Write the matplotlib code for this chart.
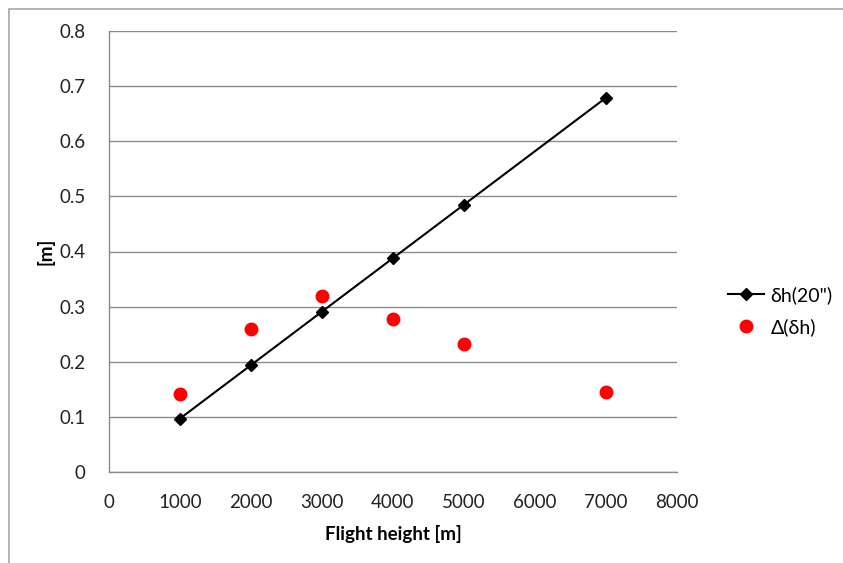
import matplotlib
matplotlib.use("Agg")
import matplotlib.pyplot as plt
from matplotlib.patches import Rectangle

heights = [1000, 2000, 3000, 4000, 5000, 7000]
dh20 = [0.097, 0.194, 0.291, 0.388, 0.485, 0.679]
delta_dh = [0.141, 0.259, 0.319, 0.278, 0.232, 0.145]
xticks = [0, 1000, 2000, 3000, 4000, 5000, 6000, 7000, 8000]
yticks = [0, 0.1, 0.2, 0.3, 0.4, 0.5, 0.6, 0.7, 0.8]

plt.rcParams['font.family'] = ['Lato', 'DejaVu Sans']

fig = plt.figure(figsize=(8.43, 5.63), dpi=100)
fig.patches.append(Rectangle((9/843, -0.1), 1.0, 1 - 9/563 + 0.1, transform=fig.transFigure,
                             fill=False, edgecolor='#a6a6a6', linewidth=1.2))
ax = fig.add_axes([109/843, 1 - 472/563, (677 - 109)/843, (472 - 31)/563])

gridc = '#8c8c8c'
ax.set_xlim(0, 8000)
ax.set_ylim(0, 0.8)
ax.set_xticks(xticks)
ax.set_yticks(yticks)
ax.set_xticklabels([str(v) for v in xticks])
ax.set_yticklabels(['0'] + [f'{v:g}' for v in yticks[1:]])
ax.grid(axis='y', color=gridc, linewidth=1.0)
ax.set_axisbelow(True)
for s in ['top', 'right']:
    ax.spines[s].set_visible(False)
for s in ['left', 'bottom']:
    ax.spines[s].set_color(gridc)
    ax.spines[s].set_linewidth(1.0)
ax.tick_params(length=0, labelsize=13.5, colors='#222222')
ax.tick_params(axis='y', pad=17)
ax.tick_params(axis='x', pad=16)

l1, = ax.plot(heights, dh20, color='black', linewidth=1.5, marker='D', markersize=6,
              markerfacecolor='black', markeredgecolor='black', label='δh(20")')
l2, = ax.plot(heights, delta_dh, linestyle='none', marker='o', markersize=9,
              color='#ff0000', label='Δ(δh)')

ax.set_xlabel('Flight height [m]', fontsize=13.5, fontweight='bold', labelpad=10)
ax.set_ylabel('[m]', fontsize=13.5, fontweight='bold', labelpad=3)

fig.legend(handles=[l1, l2], loc='center left', bbox_to_anchor=(710/843, 1 - 311/563),
           frameon=False, fontsize=14, handlelength=1.9, handletextpad=0.3,
           labelspacing=0.75)

fig.savefig('out.png', dpi=100)
